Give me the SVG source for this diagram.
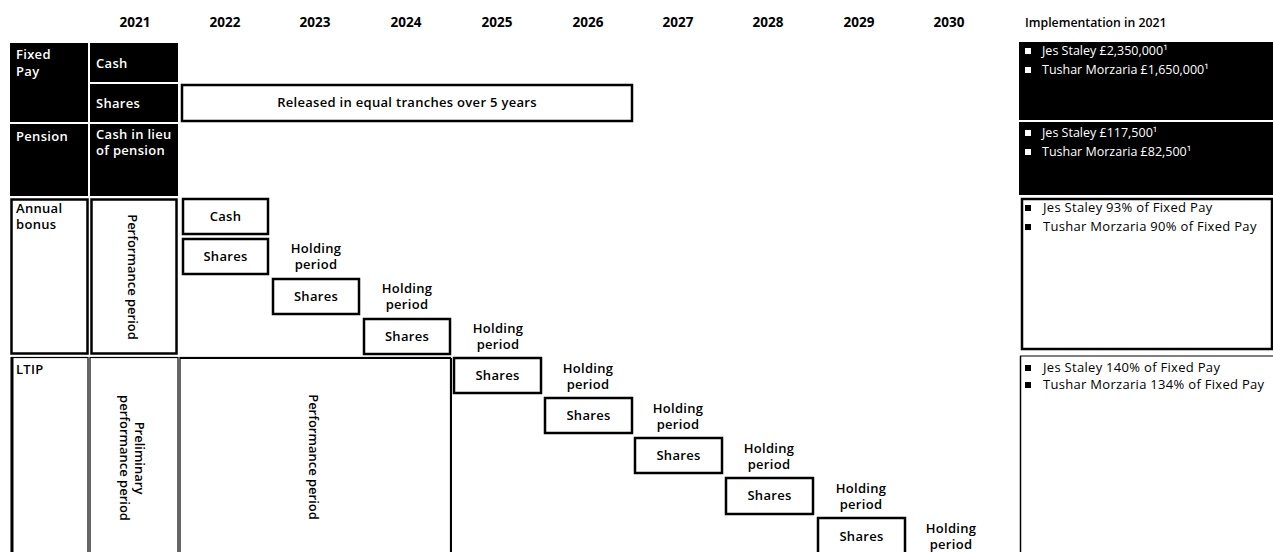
<svg xmlns="http://www.w3.org/2000/svg" width="1273" height="552" viewBox="0 0 1273 552">
<style>
  text { font-family: "Open Sans", "Liberation Sans", Arial, sans-serif; }
  .yr { font-size: 13.5px; font-weight: 700; fill: #000; text-anchor: middle; }
  .wl { font-size: 13px; font-weight: 600; fill: #fff; letter-spacing: 0.3px; }
  .bl { font-size: 13px; font-weight: 600; fill: #000; letter-spacing: 0.3px; }
  .hd { font-size: 12.3px; font-weight: 600; fill: #000; }
  .ctr { font-size: 13px; font-weight: 600; fill: #000; text-anchor: middle; letter-spacing: 0.3px; }
  .rot { font-size: 13px; font-weight: 600; fill: #000; text-anchor: middle; dominant-baseline: central; }
  .imw { font-size: 12.5px; fill: #fff; }
  .imb { font-size: 13px; fill: #000; letter-spacing: 0.3px; }
  .blk { fill: #000; }
  .box { fill: #fff; stroke: #000; stroke-width: 2.5; }
  .thin { fill: #fff; stroke: #000; stroke-width: 1.2; }
</style>
<rect width="1273" height="552" fill="#fff"/>

<g id="years">
  <text class="yr" x="135" y="27">2021</text>
  <text class="yr" x="225" y="27">2022</text>
  <text class="yr" x="315" y="27">2023</text>
  <text class="yr" x="406" y="27">2024</text>
  <text class="yr" x="497" y="27">2025</text>
  <text class="yr" x="588" y="27">2026</text>
  <text class="yr" x="678" y="27">2027</text>
  <text class="yr" x="768" y="27">2028</text>
  <text class="yr" x="859" y="27">2029</text>
  <text class="yr" x="949" y="27">2030</text>
  <text class="hd" x="1025" y="27">Implementation in 2021</text>
</g>

<g id="fixed-pay">
  <rect class="blk" x="10" y="43" width="78" height="79"/>
  <text class="wl" x="16" y="59">Fixed</text>
  <text class="wl" x="16" y="76">Pay</text>
</g>
<g id="fixed-cash">
  <rect class="blk" x="90" y="43" width="88" height="39"/>
  <text class="wl" x="96" y="68">Cash</text>
</g>
<g id="fixed-shares">
  <rect class="blk" x="90" y="84" width="88" height="38"/>
  <text class="wl" x="96" y="108">Shares</text>
</g>
<g id="released">
  <rect class="box" x="182" y="85" width="450" height="36" stroke-width="2"/>
  <text class="ctr" x="407" y="107">Released in equal tranches over 5 years</text>
</g>

<g id="pension">
  <rect class="blk" x="10" y="124" width="78" height="72"/>
  <text class="wl" x="16" y="141">Pension</text>
</g>
<g id="pension-cash">
  <rect class="blk" x="90" y="124" width="88" height="72"/>
  <text class="wl" x="96" y="139">Cash in lieu</text>
  <text class="wl" x="96" y="155">of pension</text>
</g>

<g id="annual-bonus">
  <rect class="box" x="11.5" y="199.5" width="76" height="154"/>
  <text class="bl" x="16" y="213">Annual</text>
  <text class="bl" x="16" y="229">bonus</text>
</g>
<g id="annual-performance">
  <rect class="box" x="91.5" y="199.5" width="85" height="154"/>
  <text class="rot" transform="translate(133,277) rotate(90)">Performance period</text>
</g>

<g id="ab-cash">
  <rect class="box" x="183" y="199" width="85" height="35"/>
  <text class="ctr" x="225.5" y="221">Cash</text>
</g>
<g id="ab-shares-0">
  <rect class="box" x="183" y="239" width="85" height="35"/>
  <text class="ctr" x="225.5" y="261">Shares</text>
</g>
<g id="ab-shares-1">
  <rect class="box" x="273" y="279" width="86" height="35"/>
  <text class="ctr" x="316" y="301">Shares</text>
  <text class="ctr" x="316" y="253">Holding</text>
  <text class="ctr" x="316" y="269">period</text>
</g>
<g id="ab-shares-2">
  <rect class="box" x="364" y="319" width="86" height="35"/>
  <text class="ctr" x="407" y="341">Shares</text>
  <text class="ctr" x="407" y="293">Holding</text>
  <text class="ctr" x="407" y="309">period</text>
</g>
<g id="ab-holding-3">
  <text class="ctr" x="498" y="333">Holding</text>
  <text class="ctr" x="498" y="349">period</text>
</g>

<g id="ltip">
  <rect class="thin" x="11.5" y="357.5" width="76.5" height="200"/>
  <line x1="12" y1="357" x2="12" y2="552" stroke="#000" stroke-width="3"/>
  <text class="bl" x="16" y="374">LTIP</text>
</g>
<g id="ltip-preliminary">
  <rect class="thin" x="90" y="357.5" width="88" height="200"/>
  <text class="rot" transform="translate(140,458) rotate(90)">Preliminary</text>
  <text class="rot" transform="translate(125,458) rotate(90)">performance period</text>
</g>
<g id="ltip-performance">
  <rect class="thin" x="180" y="357.5" width="270.5" height="200"/>
  <line x1="180" y1="358" x2="451" y2="358" stroke="#000" stroke-width="2"/>
  <line x1="451" y1="358" x2="451" y2="552" stroke="#000" stroke-width="2"/>
  <text class="rot" transform="translate(314,457) rotate(90)">Performance period</text>
</g>

<g id="ltip-shares-3">
  <rect class="box" x="454" y="358" width="87" height="35"/>
  <text class="ctr" x="497.5" y="380">Shares</text>
</g>
<g id="ltip-shares-4">
  <rect class="box" x="545" y="398" width="87" height="35"/>
  <text class="ctr" x="588.5" y="420">Shares</text>
  <text class="ctr" x="588" y="373">Holding</text>
  <text class="ctr" x="588" y="389">period</text>
</g>
<g id="ltip-shares-5">
  <rect class="box" x="635" y="438" width="87" height="35"/>
  <text class="ctr" x="678.5" y="460">Shares</text>
  <text class="ctr" x="678" y="413">Holding</text>
  <text class="ctr" x="678" y="429">period</text>
</g>
<g id="ltip-shares-6">
  <rect class="box" x="726" y="478" width="87" height="36"/>
  <text class="ctr" x="769.5" y="500">Shares</text>
  <text class="ctr" x="769" y="453">Holding</text>
  <text class="ctr" x="769" y="469">period</text>
</g>
<g id="ltip-shares-7">
  <rect class="box" x="818" y="518" width="87" height="40"/>
  <text class="ctr" x="861.5" y="541">Shares</text>
  <text class="ctr" x="861" y="493">Holding</text>
  <text class="ctr" x="861" y="509">period</text>
</g>
<g id="ltip-holding-8">
  <text class="ctr" x="951" y="533">Holding</text>
  <text class="ctr" x="951" y="549">period</text>
</g>

<g id="impl-fixed">
  <rect class="blk" x="1019" y="42" width="254" height="78"/>
  <rect x="1025" y="48" width="6" height="6" fill="#fff"/>
  <text class="imw" x="1042" y="55">Jes Staley £2,350,000¹</text>
  <rect x="1025" y="67" width="6" height="6" fill="#fff"/>
  <text class="imw" x="1042" y="74">Tushar Morzaria £1,650,000¹</text>
</g>
<g id="impl-pension">
  <rect class="blk" x="1019" y="122" width="254" height="73"/>
  <rect x="1025" y="130" width="6" height="6" fill="#fff"/>
  <text class="imw" x="1042" y="137">Jes Staley £117,500¹</text>
  <rect x="1025" y="149" width="6" height="6" fill="#fff"/>
  <text class="imw" x="1042" y="156">Tushar Morzaria £82,500¹</text>
</g>
<g id="impl-annual">
  <rect class="box" x="1022" y="199" width="250" height="150" stroke-width="3"/>
  <rect x="1025" y="205" width="6" height="6" fill="#000"/>
  <text class="imb" x="1043" y="212">Jes Staley 93% of Fixed Pay</text>
  <rect x="1025" y="224" width="6" height="6" fill="#000"/>
  <text class="imb" x="1043" y="231">Tushar Morzaria 90% of Fixed Pay</text>
</g>
<g id="impl-ltip">
  <line x1="1020" y1="356" x2="1273" y2="356" stroke="#000" stroke-width="1"/>
  <line x1="1020.5" y1="356" x2="1020.5" y2="552" stroke="#000" stroke-width="1.5"/>
  <rect x="1025" y="365" width="6" height="6" fill="#000"/>
  <text class="imb" x="1043" y="372">Jes Staley 140% of Fixed Pay</text>
  <rect x="1025" y="382" width="6" height="6" fill="#000"/>
  <text class="imb" x="1043" y="389">Tushar Morzaria 134% of Fixed Pay</text>
</g>

<g id="connectors"></g>
</svg>
